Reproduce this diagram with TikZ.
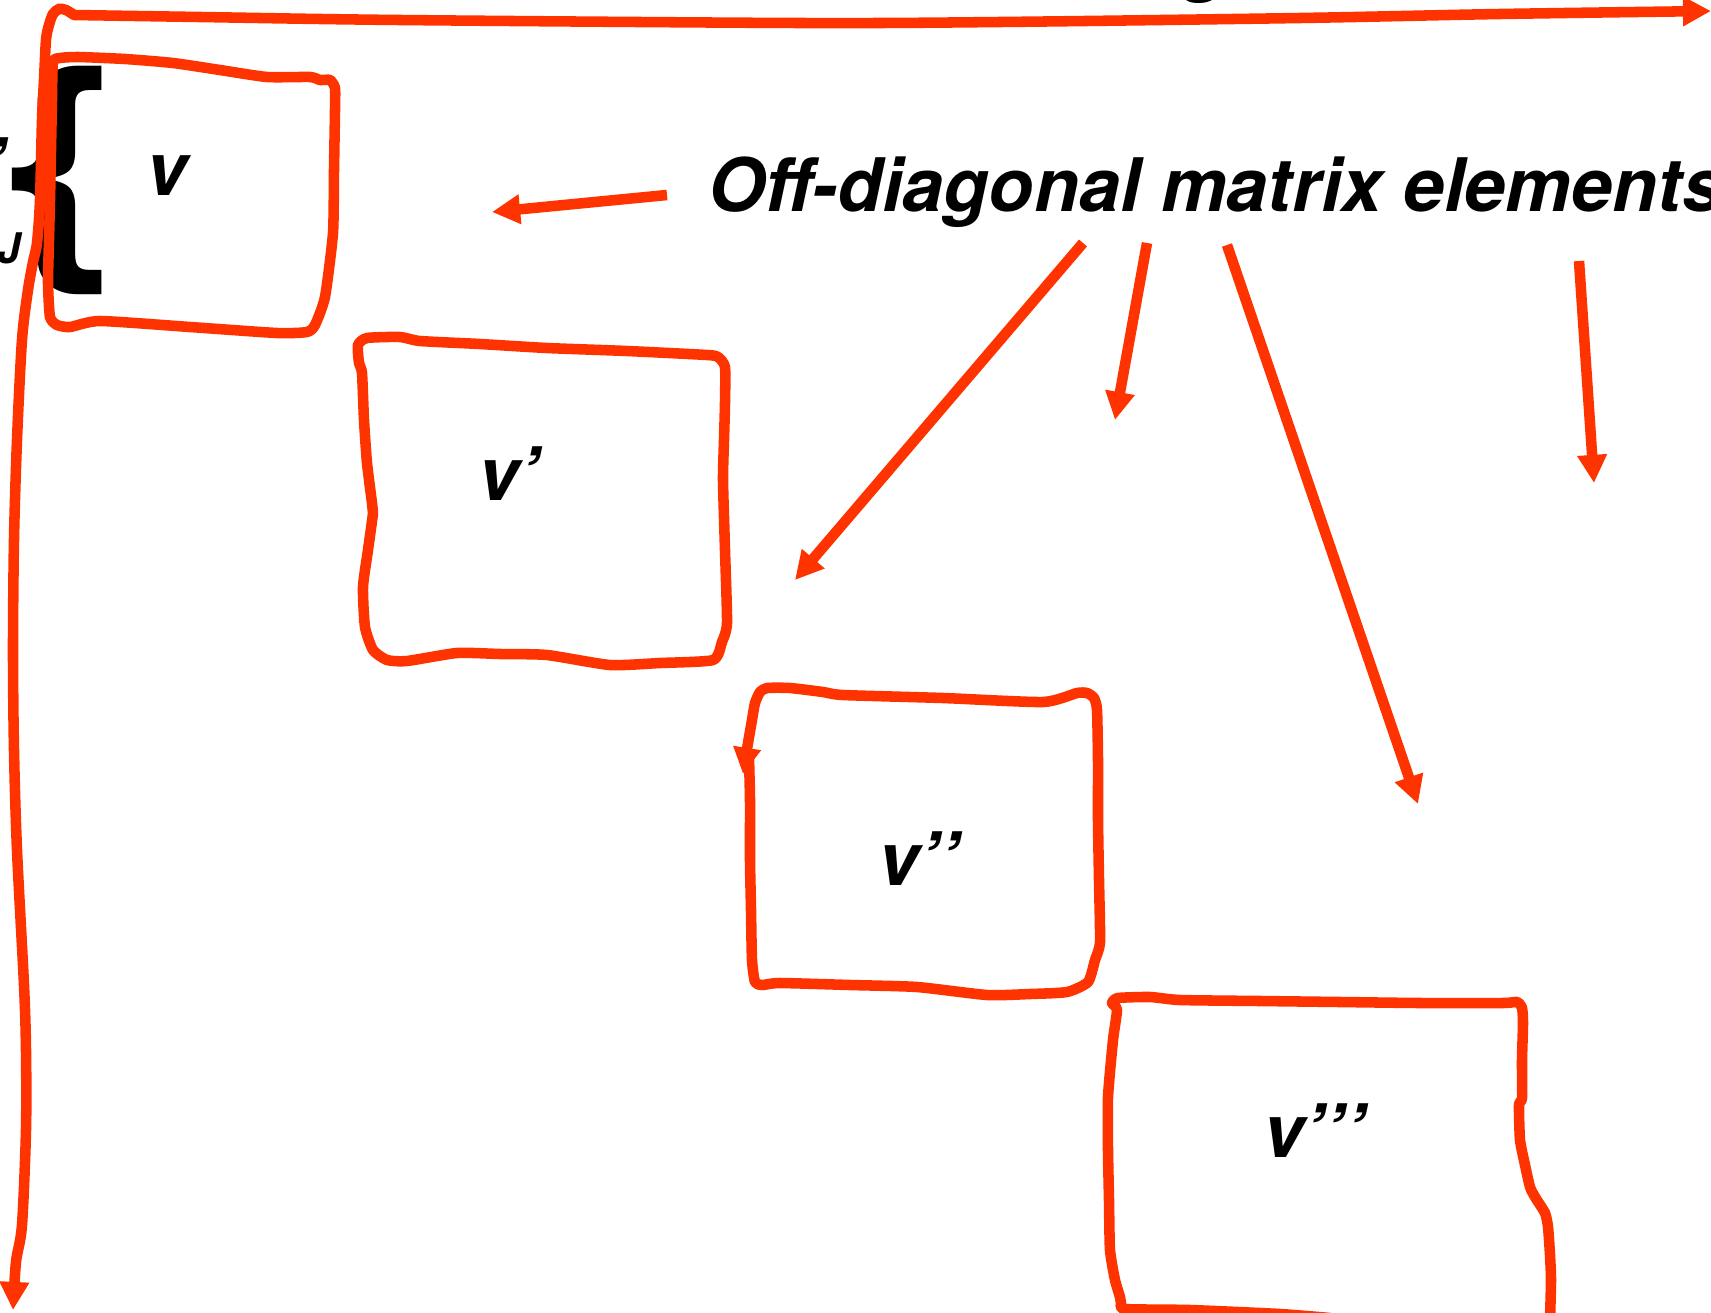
\documentclass[tikz,border=0pt]{standalone}
\usepackage{fontspec}
\setmainfont{TeX Gyre Heros}
\usetikzlibrary{arrows.meta}
\definecolor{slred}{RGB}{255,51,0}
\begin{document}
\begin{tikzpicture}[x=0.02cm,y=-0.02cm,
  redline/.style={draw=slred,line width=6pt,line join=round,line cap=round},
  redarrow/.style={draw=slred,line width=6pt,line cap=butt,-{Triangle[length=16pt,width=16pt]}},
  lbl/.style={inner sep=0pt,font=\fontsize{42pt}{48pt}\selectfont\bfseries\itshape},
  small/.style={inner sep=0pt,font=\fontsize{24pt}{28pt}\selectfont\bfseries\itshape},
  bracefont/.style={inner sep=0pt,font=\fontsize{140pt}{150pt}\selectfont\bfseries}
]
\useasboundingbox (0,0) rectangle (1711,1312);
\clip (0,0) rectangle (1711,1312);

% cut-off texts at the edges
\node[lbl,anchor=base west] (cutg) at (1184,-13) {g};
\node[lbl,anchor=base west] (cutq) at (-15,191) {’};
\node[small,anchor=base west] (cutj) at (-3,263) {J};

% big brace
\node[bracefont,xscale=1.3] (brace) at (63,180) {\{};

% outer frame arrows
\draw[redarrow,line cap=round] plot[smooth,tension=0.5] coordinates {(74,15) (200,17) (400,20) (800,23) (1000,22) (1300,18) (1500,14) (1711,11)};
\draw[redarrow,line cap=round] plot[smooth,tension=0.5] coordinates {(74,15) (66,10) (59,9) (53,14) (49,25) (46,40) (44,80) (42,120) (40,200) (37,243) (33,262) (28,290) (22,340) (17,440) (14,540) (13,650) (14,750) (17,850) (24,985) (26,1050) (26,1130) (22,1225) (16,1262) (13,1310)};

% box v
\draw[redline] plot[smooth cycle,tension=0.35] coordinates {(53,62) (60,58) (78,57) (125,59) (173,63) (220,70) (267,77) (310,77) (320,80) (330,80) (335,88) (335,110) (334,170) (333,233) (325,297) (315,325) (307,332) (277,333) (190,327) (100,321) (70,327) (57,325) (50,317) (48,283) (49,240) (50,200) (51,150) (52,100)};
% box v'
\draw[redline] plot[smooth cycle,tension=0.35] coordinates {(358,345) (367,338) (400,337) (420,341) (480,344) (547,348) (627,351) (707,355) (718,357) (725,367) (725,403) (724,440) (723,480) (725,550) (727,623) (722,642) (713,660) (660,663) (610,665) (547,655) (500,654) (457,653) (407,661) (387,660) (373,650) (365,627) (363,587) (368,550) (373,513) (372,503) (367,463) (364,420) (362,373) (359,363)};
% box v''
\draw[redline,-{Triangle[length=15pt,width=15pt]}] plot[smooth,tension=0.35] coordinates {(749,758) (750,800) (750,860) (751,910) (752,960) (755,982) (762,985) (780,983) (850,985) (917,987) (987,995) (1030,994) (1067,992) (1088,982) (1095,960) (1100,942) (1099,880) (1098,820) (1098,760) (1097,710) (1094,698) (1087,693) (1077,693) (1043,702) (943,698) (843,695) (823,692) (790,688) (767,688) (760,692) (755,703) (752,720) (748,743) (743,774)};
% box v'''
\draw[redline] plot[smooth,tension=0.35] coordinates {(1330,1318) (1280,1314) (1190,1310) (1125,1309) (1121,1303) (1120,1297) (1115,1280) (1110,1250) (1109,1200) (1108,1150) (1108,1097) (1113,1040) (1117,1010) (1112,1003) (1118,998) (1150,997) (1180,1000) (1260,1001) (1340,1002) (1420,1003) (1503,1003) (1517,1002) (1522,1008) (1523,1023) (1522,1060) (1522,1098) (1519,1105) (1520,1140) (1525,1165) (1530,1187) (1535,1197) (1545,1213) (1548,1227) (1550,1255) (1551,1280) (1550,1320)};

% labels
\node[lbl,anchor=base west] (v1) at (146,195) {v};
\node[lbl,anchor=base west] (v2) at (478,500) {v’};
\node[lbl,anchor=base west] (v3) at (878,885) {v’’};
\node[lbl,anchor=base west] (v4) at (1263,1157) {v’’’};

\node[lbl,anchor=base west] (title) at (708,211) {Off-diagonal matrix elements};

% arrows from the title
\coordinate (a1s) at (667,195); \coordinate (a1e) at (492,212);
\coordinate (a2s) at (1083,243); \coordinate (a2e) at (795,580);
\coordinate (a3s) at (1147,243); \coordinate (a3e) at (1115,420);
\coordinate (a4s) at (1227,245); \coordinate (a4e) at (1418,804);
\coordinate (a5s) at (1579,261); \coordinate (a5e) at (1594,483);
\draw[redarrow] (a1s) -- (a1e);
\draw[redarrow] (a2s) -- (a2e);
\draw[redarrow] (a3s) -- (a3e);
\draw[redarrow] (a4s) -- (a4e);
\draw[redarrow] (a5s) -- (a5e);
\end{tikzpicture}
\end{document}
